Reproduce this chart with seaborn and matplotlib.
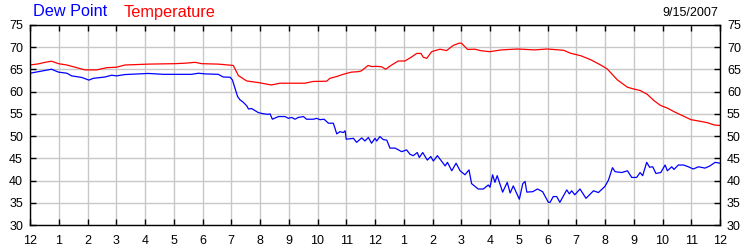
import matplotlib
matplotlib.use("Agg")
import matplotlib.pyplot as plt
import seaborn as sns
import pandas as pd

# ---- data (hours since midnight, degrees F) ----
temp_hours = [0.0, 0.29, 0.52, 0.75, 0.99, 1.28, 1.57, 1.91, 2.32, 2.67, 3.01, 3.3, 4.12, 5.04,
              5.39, 5.74, 5.97, 6.55, 7.07, 7.25, 7.54, 7.94, 8.4, 8.69, 9.56, 9.85, 10.32,
              10.43, 10.66, 10.89, 11.18, 11.42, 11.53, 11.76, 11.88, 12.05, 12.23, 12.37,
              12.58, 12.81, 13.04, 13.27, 13.45, 13.6, 13.68, 13.8, 13.97, 14.26, 14.49,
              14.72, 14.92, 15.01, 15.22, 15.47, 15.7, 15.99, 16.4, 16.96, 17.55, 18.0,
              18.57, 18.8, 19.15, 19.5, 19.85, 20.08, 20.43, 20.78, 21.0, 21.23, 21.47,
              21.7, 21.93, 22.17, 22.4, 22.63, 22.99, 23.34, 23.57, 23.8, 24.0]
temp_values = [66.0, 66.25, 66.6, 66.85, 66.3, 66.0, 65.5, 64.9, 64.9, 65.4, 65.5, 66.0, 66.2, 66.3,
               66.4, 66.6, 66.3, 66.2, 65.9, 63.6, 62.4, 62.05, 61.5, 61.9, 61.9, 62.3, 62.35,
               63.0, 63.4, 63.9, 64.4, 64.5, 64.7, 65.9, 65.65, 65.7, 65.6, 65.05,
               66.0, 66.9, 66.9, 67.8, 68.6, 68.6, 67.75, 67.5, 69.0, 69.55, 69.25,
               70.4, 70.9, 70.9, 69.5, 69.55, 69.2, 69.0, 69.4, 69.6, 69.4, 69.6,
               69.3, 68.65, 68.1, 67.2, 66.0, 65.1, 62.65, 61.0, 60.6, 60.25, 59.4,
               58.0, 56.9, 56.3, 55.5, 54.8, 53.7, 53.3, 53.0, 52.5, 52.4]

dew_hours = [0.0, 0.29, 0.64, 0.75, 0.99, 1.28, 1.45, 1.8, 2.05, 2.2, 2.61, 2.84, 3.01, 3.3, 4.12,
             4.64, 5.62, 5.86, 6.09, 6.55, 6.72, 6.96, 7.04, 7.13, 7.22, 7.3, 7.42, 7.54, 7.6,
             7.71, 7.94, 8.06, 8.26, 8.35, 8.43, 8.64, 8.87, 8.99, 9.1, 9.22, 9.33, 9.51,
             9.62, 9.86, 9.97, 10.09, 10.23, 10.38, 10.55, 10.67, 10.78, 10.9, 10.96, 11.0,
             11.25, 11.36, 11.54, 11.65, 11.77, 11.88, 12.0, 12.06, 12.17, 12.29, 12.41,
             12.52, 12.7, 12.93, 13.1, 13.22, 13.33, 13.47, 13.54, 13.66, 13.82, 13.94,
             14.03, 14.17, 14.44, 14.52, 14.67, 14.82, 14.96, 15.13, 15.27, 15.36, 15.59,
             15.77, 15.94, 16.0, 16.09, 16.17, 16.25, 16.44, 16.6, 16.7, 16.81, 17.02,
             17.14, 17.22, 17.28, 17.49, 17.65, 17.83, 18.03, 18.09, 18.2, 18.32, 18.43,
             18.67, 18.76, 18.84, 18.95, 19.13, 19.34, 19.6, 19.77, 20.0, 20.12, 20.26,
             20.35, 20.58, 20.78, 20.93, 21.1, 21.22, 21.31, 21.45, 21.55, 21.66, 21.77,
             21.94, 22.09, 22.17, 22.32, 22.4, 22.55, 22.73, 22.9, 23.07, 23.25, 23.48,
             23.65, 23.83, 24.0]
dew_values = [64.15, 64.5, 64.9, 65.05, 64.4, 64.15, 63.55, 63.2, 62.6, 63.0, 63.3, 63.7, 63.55, 63.85, 64.1,
              63.9, 63.9, 64.15, 64.0, 63.9, 63.3, 63.25, 62.65, 60.8, 58.9, 58.2, 57.6, 56.8, 56.1,
              56.2, 55.3, 55.1, 54.9, 55.0, 53.8, 54.4, 54.4, 54.0, 54.2, 53.8, 54.2, 54.4,
              53.8, 53.8, 54.0, 53.7, 53.8, 52.9, 52.9, 50.5, 51.0, 50.8, 51.2, 49.3,
              49.5, 48.6, 49.6, 48.9, 49.7, 48.4, 49.5, 48.9, 49.9, 49.2, 49.1,
              47.3, 47.3, 46.5, 46.9, 45.9, 45.6, 46.3, 45.2, 46.3, 44.6, 45.4,
              44.4, 45.6, 43.3, 44.1, 42.2, 43.9, 42.2, 41.3, 42.4, 39.3, 38.1,
              38.1, 39.0, 38.5, 41.3, 39.6, 41.1, 37.4, 39.6, 37.2, 38.8, 35.8,
              39.3, 39.8, 37.4, 37.5, 38.1, 37.5, 35.1, 35.1, 36.4, 36.4, 35.1,
              37.9, 37.0, 37.7, 36.8, 38.1, 36.0, 37.7, 37.3, 38.7, 40.1, 42.9,
              42.0, 41.8, 42.2, 40.7, 40.7, 41.8, 41.1, 44.1, 43.0, 43.1, 41.6,
              41.8, 43.5, 42.2, 43.1, 42.5, 43.5, 43.5, 43.1, 42.6, 43.1, 42.8,
              43.3, 44.1, 43.9]

series_names = ["Dew Point", "Temperature"]
series_colors = ["#0000ff", "#ff0000"]
x_tick_labels = ["12", "1", "2", "3", "4", "5", "6", "7", "8", "9", "10", "11",
                 "12", "1", "2", "3", "4", "5", "6", "7", "8", "9", "10", "11", "12"]
y_ticks = [30, 35, 40, 45, 50, 55, 60, 65, 70, 75]
date_label = "9/15/2007"

df = pd.concat([
    pd.DataFrame({"hour": dew_hours, "value": dew_values, "series": series_names[0]}),
    pd.DataFrame({"hour": temp_hours, "value": temp_values, "series": series_names[1]}),
], ignore_index=True)

sns.set_style("white")
plt.rcParams["font.family"] = ["Liberation Sans", "DejaVu Sans"]

fig = plt.figure(figsize=(7.5, 2.5), dpi=100)
ax = fig.add_axes([30 / 750, 25 / 250, 690 / 750, 200 / 250])

sns.lineplot(data=df, x="hour", y="value", hue="series", hue_order=series_names,
             palette=dict(zip(series_names, series_colors)), linewidth=0.9,
             legend=False, ax=ax, sort=False, estimator=None)

ax.set_xlim(0, 24)
ax.set_ylim(30, 75)
ax.set_xticks(range(25))
ax.set_xticklabels(x_tick_labels)
ax.set_yticks(y_ticks)
ax.set_xlabel("")
ax.set_ylabel("")
ax.grid(True, color="#c8c8c8", linewidth=1.0)
ax.set_axisbelow(True)
for sp in ax.spines.values():
    sp.set_visible(True)
    sp.set_color("black")
    sp.set_linewidth(1.0)
ax.tick_params(axis="both", direction="in", length=4, width=1, color="black",
               labelsize=9, labelcolor="black", pad=5,
               top=True, right=True, left=True, bottom=True,
               labelleft=True, labelright=True)
ax.tick_params(axis="x", pad=7)

fig.text(33 / 750, 1 - 12 / 250, series_names[0], color=series_colors[0], fontsize=11.7, va="center", ha="left")
fig.text(124 / 750, 1 - 12 / 250, series_names[1], color=series_colors[1], fontsize=11.7, va="center", ha="left")
fig.text(718 / 750, 1 - 13 / 250, date_label, color="black", fontsize=9, va="center", ha="right")

fig.savefig("out.png", dpi=100)
